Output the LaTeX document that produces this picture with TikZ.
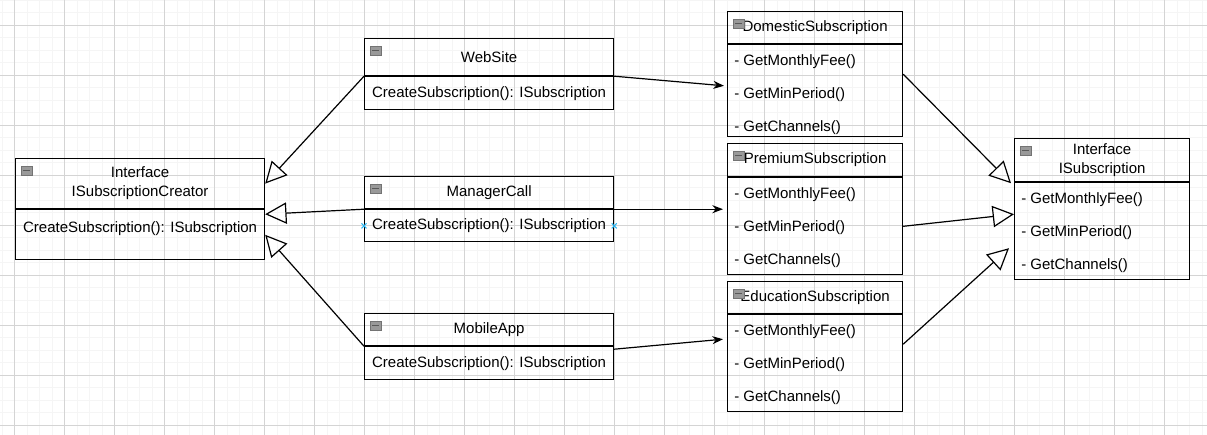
\documentclass[tikz,border=0pt]{standalone}
\usepackage{fontspec}
\setmainfont{Liberation Sans}
\usetikzlibrary{arrows.meta,calc}
\definecolor{hover}{HTML}{29B6F2}

\begin{document}
\begin{tikzpicture}[x=0.75pt,y=-0.75pt,
    box/.style={draw,line width=0.9pt,anchor=north west,inner sep=0pt,font=\fontsize{11.25}{14.25}\selectfont},
    item/.style={anchor=west,inner sep=0pt,font=\fontsize{11.25}{14.25}\selectfont},
    realize/.style={line width=0.9pt,-{Triangle[open,length=16pt,width=16pt]}},
    uses/.style={line width=0.9pt,-{Stealth[length=8pt,width=6pt]}},
    icon/.style={fill=black!40,draw=black!55,line width=0.5pt},
    minor/.style={black!4,line width=0.4pt},
    major/.style={black!17,line width=0.5pt}]
                \useasboundingbox (0,0) rectangle (1207,435);
                % grid of the canvas
                \foreach \x in {1.8,14.3,...,1207} \draw[minor] (\x,0) -- (\x,435);
                \foreach \y in {0,12.5,...,435} \draw[minor] (0,\y) -- (1207,\y);
                \foreach \x in {14.3,64.3,...,1207} \draw[major] (\x,0) -- (\x,435);
                \foreach \y in {25,75,...,435} \draw[major] (0,\y) -- (1207,\y);
                % creators
                \node[box,minimum width=186.75pt,minimum height=37.5pt,align=center] (cre-h) at (15,158) {Interface\\ISubscriptionCreator};
                \node[box,minimum width=186.75pt,text height=17.25pt,text depth=20.25pt] (cre-b) at (cre-h.south west) {CreateSubscription(): ISubscription};
                \node[box,minimum width=186.75pt,minimum height=27.75pt] (web-h) at (364,38) {WebSite};
                \node[box,minimum width=186.75pt,minimum height=24.75pt] (web-b) at (web-h.south west) {CreateSubscription(): ISubscription};
                \node[box,minimum width=186.75pt,minimum height=24pt] (mgr-h) at (364,176) {ManagerCall};
                \node[box,minimum width=186.75pt,minimum height=24pt] (mgr-b) at (mgr-h.south west) {CreateSubscription(): ISubscription};
                \node[box,minimum width=186.75pt,minimum height=24pt] (mob-h) at (364,313) {MobileApp};
                \node[box,minimum width=186.75pt,minimum height=24.75pt] (mob-b) at (mob-h.south west) {CreateSubscription(): ISubscription};
                % subscriptions
                \node[box,minimum width=131.25pt,minimum height=24pt] (dom-h) at (727,11) {DomesticSubscription};
                \node[box,minimum width=131.25pt,minimum height=69pt] (dom-b) at (dom-h.south west) {};
                \node[box,minimum width=131.25pt,minimum height=24.75pt] (pre-h) at (727,143) {PremiumSubscription};
                \node[box,minimum width=131.25pt,minimum height=72.75pt] (pre-b) at (pre-h.south west) {};
                \node[box,minimum width=131.25pt,minimum height=24pt] (edu-h) at (727,281) {EducationSubscription};
                \node[box,minimum width=131.25pt,minimum height=72.75pt] (edu-b) at (edu-h.south west) {};
                \node[box,minimum width=131.25pt,minimum height=32.25pt,align=center] (isub-h) at (1014,138) {Interface\\ISubscription};
                \node[box,minimum width=131.25pt,minimum height=72.75pt] (isub-b) at (isub-h.south west) {};
                \foreach \c in {dom,pre,edu,isub} {
                    \node[item] (\c-fee) at ($(\c-b.north west)+(7,17)$) {- GetMonthlyFee()};
                    \node[item] (\c-min) at ($(\c-b.north west)+(7,50)$) {- GetMinPeriod()};
                    \node[item] (\c-ch) at ($(\c-b.north west)+(7,83)$) {- GetChannels()};
                }
                % collapse buttons
                \foreach \c in {cre,web,mgr,mob,dom,pre,edu,isub} {
                    \draw[icon] ($(\c-h.north west)+(6,8)$) rectangle ++(11,9);
                    \draw[black!65,line width=0.8pt] ($(\c-h.north west)+(8,12.5)$) -- ++(7,0);
                }
                \draw[hover,line width=0.8pt] (mgr-b.west) ++(-2.5,-2.5) -- ++(5,5) ++(0,-5) -- ++(-5,5);
                \draw[hover,line width=0.8pt] (mgr-b.east) ++(-2.5,-2.5) -- ++(5,5) ++(0,-5) -- ++(-5,5);
                % connectors
                \draw[realize] (web-b.north west) -- (cre-h.east);
                \draw[realize] (mgr-b.north west) -- ($(cre-b.north east)+(0,5)$);
                \draw[realize] (mob-b.north west) -- (cre-b.east);
                \draw[uses] (web-b.north east) -- ($(dom-b.west)+(-3,-5)$);
                \draw[uses] (mgr-b.north east) -- ($(pre-b.north west)+(-4,32)$);
                \draw[uses] ($(mob-b.north east)+(0,3)$) -- ($(edu-b.north west)+(-4,25)$);
                \draw[realize] ($(dom-b.north east)+(0,30)$) -- ($(isub-b.north west)+(-3,1)$);
                \draw[realize] (pre-b.east) -- ($(isub-b.north west)+(0,32)$);
                \draw[realize] ($(edu-b.north east)+(0,30)$) -- ($(isub-b.north west)+(-5,66)$);
            \end{tikzpicture}
\end{document}
